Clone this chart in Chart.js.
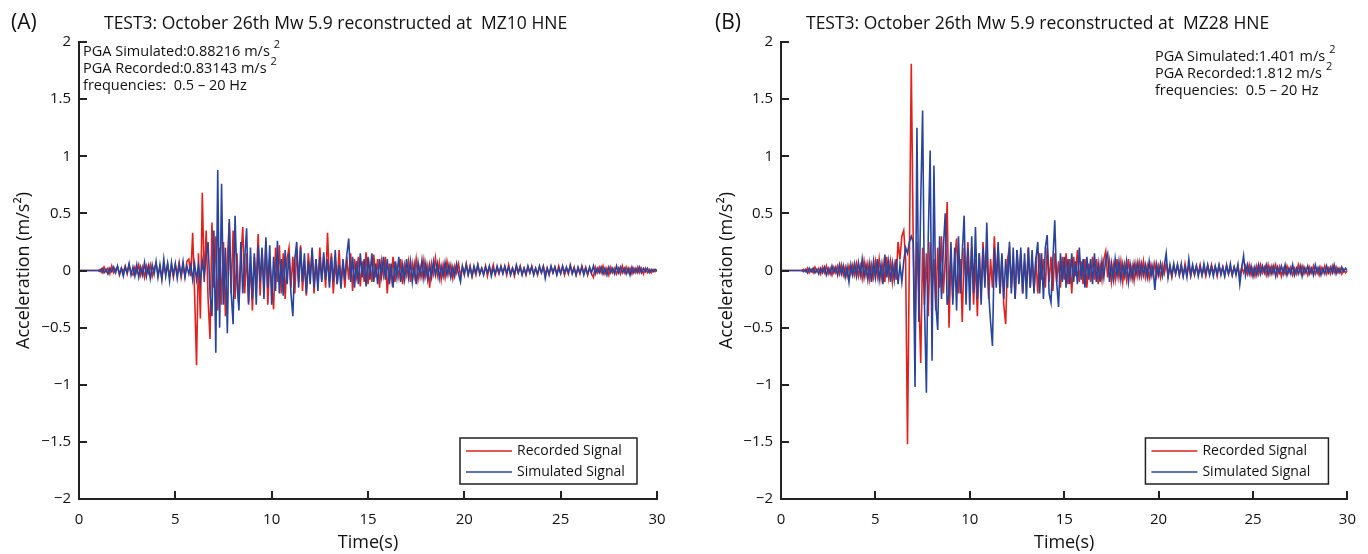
<!DOCTYPE html>
<html>
<head>
<meta charset="utf-8">
<script src="https://cdn.jsdelivr.net/npm/chart.js@4.4.1/dist/chart.umd.min.js"></script>
<style>
  body { margin: 0; background: #fff; }
  canvas { position: absolute; top: 0; }
</style>
</head>
<body>
<canvas id="panelA" width="684" height="554" style="left:0"></canvas>
<canvas id="panelB" width="684" height="554" style="left:684px"></canvas>
<script>
// sampling step of the traces (s)
const DT = 0.1;

const xTicks = [0, 5, 10, 15, 20, 25, 30];
const yTicks = [-2, -1.5, -1, -0.5, 0, 0.5, 1, 1.5, 2];
const TICK_LEN = 8;

// MZ10 HNE, one row per second
const recordedA = [
  0, 0, 0, 0, 0, 0, 0, 0, 0, 0,
  0.00, 0.01, -0.02, 0.03, -0.01, 0.02, -0.03, 0.04, -0.02, 0.01,
  0.03, -0.04, 0.02, -0.01, 0.04, -0.03, 0.05, -0.02, -0.04, 0.03,
  -0.02, 0.05, -0.04, 0.03, -0.06, 0.04, -0.02, 0.05, -0.05, 0.02,
  0.06, -0.04, 0.03, -0.07, 0.05, -0.03, 0.06, -0.05, 0.04, -0.06,
  0.05, -0.03, 0.07, -0.06, 0.04, -0.05, 0.08, 0.10, -0.05, 0.33,
  -0.20, -0.83, 0.15, -0.42, 0.68, -0.10, 0.35, -0.25, -0.60, 0.42,
  -0.15, 0.30, -0.35, 0.20, -0.30, 0.25, -0.40, 0.10, 0.42, -0.20,
  0.35, -0.25, 0.15, -0.30, 0.10, 0.38, -0.20, 0.15, -0.28, 0.05,
  -0.35, 0.12, -0.10, 0.32, -0.22, 0.18, -0.15, 0.25, -0.30, 0.10,
  -0.12, -0.34, 0.20, -0.10, 0.22, -0.20, 0.15, -0.25, 0.10, 0.20,
  -0.15, 0.12, -0.20, 0.18, -0.10, 0.22, -0.18, 0.08, -0.22, 0.15,
  -0.05, 0.18, -0.20, 0.10, -0.12, 0.20, -0.08, 0.12, -0.15, 0.33,
  -0.10, 0.15, -0.20, 0.08, -0.12, 0.18, -0.10, 0.05, -0.15, 0.12,
  -0.08, 0.15, -0.18, 0.10, -0.05, 0.12, -0.14, 0.08, -0.10, 0.16,
  -0.12, 0.05, -0.10, 0.14, -0.06, 0.10, -0.15, 0.08, -0.04, 0.12,
  -0.20, 0.06, -0.08, 0.12, -0.10, 0.04, -0.06, 0.10, -0.12, 0.05,
  -0.04, 0.08, -0.10, 0.06, -0.05, 0.10, -0.08, 0.03, -0.06, 0.09,
  -0.05, 0.04, -0.15, 0.06, -0.03, 0.11, -0.04, 0.07, -0.08, 0.05,
  -0.06, 0.08, -0.03, 0.05, -0.07, 0.04, -0.02, 0.06, -0.05, 0.03,
  -0.04, 0.06, -0.03, 0.04, -0.05, 0.02, -0.04, 0.05, -0.03, 0.02,
  -0.03, 0.04, -0.05, 0.03, -0.02, 0.05, -0.04, 0.02, -0.03, 0.04,
  -0.02, 0.03, -0.04, 0.05, -0.03, 0.02, -0.05, 0.03, -0.02, 0.04,
  -0.03, 0.02, -0.04, 0.03, -0.02, 0.04, -0.03, 0.02, -0.04, 0.03,
  -0.02, 0.04, -0.03, 0.02, -0.04, 0.03, -0.02, 0.03, -0.03, 0.04,
  -0.02, 0.03, -0.04, 0.02, -0.03, 0.05, -0.02, 0.03, -0.04, 0.02,
  -0.03, 0.04, -0.02, 0.03, -0.04, 0.02, -0.03, -0.06, 0.03, -0.02,
  0.03, -0.02, 0.04, -0.03, 0.02, -0.04, 0.03, -0.02, 0.02, -0.03,
  0.02, -0.03, 0.04, -0.02, 0.03, -0.02, 0.02, -0.03, 0.02, -0.02,
  0.03, -0.02, 0.02, -0.03, 0.02, -0.02, 0.01, -0.02, 0.01, -0.01,
  0
];

const simulatedA = [
  0, 0, 0, 0, 0, 0, 0, 0, 0, 0,
  0.00, -0.01, 0.02, -0.02, 0.01, -0.03, 0.02, -0.01, 0.03, -0.02,
  0.04, -0.03, 0.02, -0.05, 0.03, -0.02, 0.06, -0.04, 0.03, -0.05,
  0.05, -0.06, 0.03, -0.04, 0.07, -0.05, 0.04, -0.07, 0.05, -0.03,
  0.08, -0.06, 0.05, -0.08, 0.10, -0.05, 0.06, -0.09, 0.07, -0.04,
  0.06, -0.07, 0.05, -0.04, 0.08, -0.06, 0.04, -0.03, 0.05, -0.08,
  0.06, -0.08, 0.05, -0.10, 0.08, -0.05, 0.12, 0.25, -0.20, -0.40,
  0.35, -0.72, 0.88, -0.50, 0.76, -0.30, 0.20, -0.55, 0.45, -0.20,
  -0.47, 0.48, -0.10, -0.35, 0.25, -0.20, 0.10, 0.37, -0.30, 0.20,
  -0.25, 0.15, -0.30, 0.22, -0.10, 0.20, -0.25, 0.29, -0.15, 0.22,
  -0.30, 0.12, -0.18, 0.26, -0.20, 0.10, -0.22, 0.18, -0.12, 0.15,
  -0.20, -0.40, 0.10, 0.25, -0.15, 0.20, -0.10, 0.15, -0.20, 0.08,
  -0.12, 0.20, -0.15, 0.10, -0.18, 0.12, -0.10, 0.16, -0.08, 0.10,
  -0.15, 0.12, -0.10, 0.18, -0.12, 0.05, -0.16, 0.10, -0.08, 0.14,
  0.28, -0.10, 0.12, -0.15, 0.08, -0.12, 0.15, -0.06, 0.10, -0.14,
  0.12, -0.08, 0.15, -0.10, 0.06, -0.12, 0.10, -0.05, 0.12, -0.08,
  0.10, -0.12, 0.06, -0.15, 0.08, -0.06, 0.12, -0.10, 0.05, -0.08,
  0.10, -0.06, 0.08, -0.10, 0.05, -0.12, 0.07, -0.05, 0.09, -0.07,
  0.06, -0.08, 0.05, -0.06, 0.08, -0.04, 0.06, -0.07, 0.04, -0.05,
  0.07, -0.04, 0.05, -0.06, 0.03, -0.05, 0.06, -0.03, -0.10, 0.04,
  -0.03, 0.05, -0.04, 0.03, -0.05, 0.04, -0.02, 0.05, -0.03, 0.02,
  -0.04, 0.03, -0.02, 0.04, -0.05, 0.02, -0.03, 0.04, -0.02, 0.03,
  -0.03, 0.04, -0.02, 0.03, -0.04, 0.02, -0.03, 0.05, -0.02, 0.03,
  -0.04, 0.02, -0.03, 0.04, -0.02, 0.03, -0.04, 0.02, -0.03, 0.04,
  -0.02, 0.03, -0.07, 0.02, -0.03, 0.04, -0.02, 0.03, -0.04, 0.02,
  -0.03, 0.04, -0.02, 0.03, -0.02, 0.04, -0.03, 0.02, -0.04, 0.03,
  -0.02, 0.03, -0.04, 0.02, -0.03, 0.03, -0.02, 0.04, -0.03, 0.02,
  -0.02, 0.03, -0.03, 0.02, -0.04, 0.03, -0.02, 0.02, -0.03, 0.04,
  -0.02, 0.03, -0.02, 0.02, -0.03, 0.02, -0.04, 0.03, -0.02, 0.02,
  -0.02, 0.03, -0.02, 0.02, -0.01, 0.02, -0.02, 0.01, -0.01, 0.01,
  0
];

// MZ28 HNE
const recordedB = [
  0, 0, 0, 0, 0, 0, 0, 0, 0, 0,
  0.00, 0.00, 0.01, -0.01, 0.02, -0.02, 0.01, -0.02, 0.03, -0.01,
  0.02, -0.03, 0.03, -0.02, 0.04, -0.03, 0.02, -0.04, 0.03, -0.02,
  0.04, -0.03, 0.05, -0.04, 0.03, -0.05, 0.04, -0.03, 0.05, -0.04,
  0.06, -0.05, 0.04, -0.07, 0.08, -0.04, 0.06, -0.08, 0.05, -0.06,
  0.08, -0.05, 0.10, -0.07, 0.06, -0.10, 0.12, -0.06, 0.08, -0.10,
  0.05, -0.08, 0.25, 0.10, 0.30, 0.35, 0.10, -1.52, 0.15, 1.81,
  0.30, -0.55, 0.25, -0.20, -0.81, 0.20, -0.30, 0.15, -0.40, 0.25,
  -0.20, 0.10, -0.35, 0.20, -0.15, 0.30, -0.20, 0.10, 0.60, -0.50,
  0.15, -0.25, 0.10, 0.28, -0.20, 0.10, -0.45, 0.20, -0.10, 0.25,
  -0.15, 0.20, -0.30, 0.10, -0.40, 0.15, -0.20, 0.25, -0.10, 0.18,
  -0.25, 0.10, -0.15, 0.30, -0.10, 0.20, -0.20, 0.12, -0.30, -0.47,
  0.10, 0.20, -0.15, 0.10, -0.25, 0.18, -0.10, 0.15, -0.20, 0.08,
  -0.12, 0.20, -0.15, 0.10, -0.18, 0.12, -0.20, 0.15, -0.08, 0.10,
  -0.15, 0.20, -0.10, 0.12, -0.18, 0.15, -0.10, 0.08, -0.15, 0.12,
  -0.08, 0.15, -0.12, 0.10, -0.20, 0.12, -0.05, 0.18, -0.10, 0.08,
  -0.12, 0.10, -0.15, 0.06, -0.10, 0.12, -0.08, 0.10, -0.12, 0.05,
  -0.08, 0.10, 0.17, -0.06, 0.08, -0.10, 0.05, -0.08, 0.10, -0.06,
  0.08, -0.10, 0.05, -0.08, 0.10, -0.06, 0.04, -0.09, 0.06, -0.05,
  0.07, -0.05, 0.08, -0.06, 0.04, -0.07, 0.05, -0.04, 0.06, -0.05,
  0.04, -0.06, 0.05, -0.03, 0.06, -0.05, 0.03, -0.06, 0.04, -0.03,
  0.05, -0.04, 0.03, -0.05, 0.06, -0.03, 0.04, -0.05, 0.03, -0.04,
  0.04, -0.03, 0.05, -0.04, 0.02, -0.05, 0.04, -0.03, 0.05, -0.02,
  0.03, -0.05, 0.04, -0.02, 0.03, -0.04, 0.05, -0.03, 0.02, -0.04,
  0.03, -0.02, 0.04, -0.05, 0.03, -0.02, 0.04, -0.03, 0.05, -0.04,
  0.02, -0.05, 0.04, -0.03, 0.05, -0.02, 0.03, -0.04, 0.05, -0.03,
  0.04, -0.02, 0.05, -0.04, 0.03, -0.05, 0.02, -0.03, 0.04, -0.02,
  0.03, -0.04, 0.02, -0.03, 0.05, -0.02, 0.04, -0.03, 0.02, -0.04,
  0.03, -0.02, 0.04, -0.03, 0.02, -0.04, 0.03, -0.02, 0.04, -0.03,
  0.02, -0.03, 0.04, -0.02, 0.03, -0.02, 0.02, -0.03, 0.01, -0.02,
  0
];

const simulatedB = [
  0, 0, 0, 0, 0, 0, 0, 0, 0, 0,
  0.00, 0.00, -0.01, 0.01, -0.02, 0.02, -0.01, 0.02, -0.02, 0.01,
  -0.03, 0.02, -0.02, 0.03, -0.04, 0.02, -0.03, 0.04, -0.02, 0.03,
  -0.04, 0.05, -0.03, 0.04, -0.06, 0.03, -0.10, 0.05, -0.04, 0.06,
  -0.05, 0.07, -0.04, 0.10, -0.06, 0.05, -0.08, 0.06, -0.10, 0.08,
  -0.06, 0.10, -0.08, 0.05, -0.12, 0.14, -0.06, 0.08, -0.10, 0.06,
  -0.08, 0.10, -0.12, 0.05, -0.10, 0.08, 0.20, 0.15, 0.25, 0.30,
  0.25, -1.02, 1.25, -0.45, 0.60, 1.40, -0.30, -1.07, 0.30, 1.05,
  -0.79, 0.92, -0.30, -0.52, 0.30, -0.25, 0.20, 0.50, -0.30, -0.20,
  0.25, -0.30, 0.20, -0.35, 0.30, -0.20, 0.15, 0.48, -0.30, 0.20,
  -0.35, 0.30, -0.20, 0.38, -0.25, 0.15, -0.30, 0.20, -0.15, 0.42,
  -0.20, -0.45, -0.66, 0.20, -0.15, 0.25, -0.20, 0.15, -0.25, 0.10,
  -0.15, 0.25, -0.20, 0.20, -0.25, 0.18, -0.12, 0.20, -0.20, 0.15,
  -0.25, 0.20, -0.15, 0.18, -0.20, 0.10, 0.25, -0.20, 0.15, -0.25,
  0.20, 0.31, -0.20, -0.28, 0.10, 0.44, -0.10, -0.32, 0.15, -0.10,
  0.12, -0.15, 0.10, -0.12, 0.15, -0.10, 0.08, -0.12, 0.20, -0.08,
  0.10, -0.15, 0.12, -0.08, 0.10, -0.12, 0.15, -0.10, 0.06, -0.10,
  0.08, -0.06, 0.10, 0.15, -0.10, 0.06, -0.08, 0.10, -0.05, 0.08,
  -0.08, 0.06, -0.05, 0.08, -0.10, 0.05, -0.07, 0.06, -0.04, 0.07,
  -0.05, 0.06, -0.04, 0.05, -0.06, 0.08, -0.05, 0.04, -0.17, 0.05,
  -0.04, 0.06, -0.05, 0.04, 0.15, -0.06, 0.05, -0.04, 0.06, -0.03,
  0.05, -0.04, 0.06, -0.05, 0.03, -0.06, 0.10, -0.04, 0.05, -0.03,
  0.04, -0.05, 0.03, -0.04, 0.06, -0.03, 0.05, -0.04, 0.03, -0.05,
  0.04, -0.03, 0.05, -0.04, 0.03, -0.05, 0.04, -0.03, 0.06, -0.04,
  0.03, -0.04, 0.05, -0.12, 0.02, 0.13, -0.04, 0.05, -0.03, 0.04,
  -0.05, 0.03, -0.04, 0.05, -0.03, 0.04, -0.02, 0.05, -0.04, 0.03,
  -0.03, 0.04, -0.05, 0.03, -0.02, 0.04, -0.03, 0.05, -0.04, 0.02,
  -0.03, 0.05, -0.04, 0.02, -0.03, 0.04, -0.05, 0.03, -0.02, 0.04,
  -0.03, 0.02, -0.04, 0.05, -0.02, 0.03, -0.04, 0.02, -0.03, 0.04,
  -0.02, 0.03, -0.02, 0.05, -0.03, 0.02, -0.02, 0.03, -0.01, 0.02,
  0
];

const RED = '#e3211c';
const BLUE = '#28449c';
const AXIS = '#222';
const TEXT = '#111';
const FONT = '"Open Sans", "DejaVu Sans", sans-serif';

function toPoints(values) {
    return values.map((v, i) => ({ x: i * DT, y: v }));
}

function fmtTick(v) {
    if (v === 0) return '0';
    return v < 0 ? '\u2212' + Math.abs(v) : String(v);
}

// note line with a raised "2" after the unit
function drawSup(ctx, text, x, y) {
    ctx.font = '14.5px ' + FONT;
    const w = ctx.measureText(text).width;
    ctx.fillText(text, x, y);
    ctx.font = '11px ' + FONT;
    ctx.fillText('2', x + w + 4, y - 7);
}

// MATLAB style tick marks pointing into the axes
const innerTicks = {
    id: 'innerTicks',
    afterDraw(chart) {
        const ctx = chart.ctx;
        const area = chart.chartArea;
        const sx = chart.scales.x;
        const sy = chart.scales.y;
        ctx.save();
        ctx.fillStyle = AXIS;
        xTicks.forEach(v => {
            const px = Math.round(sx.getPixelForValue(v));
            ctx.fillRect(px - 1, area.bottom - TICK_LEN, 2, TICK_LEN);
        });
        yTicks.forEach(v => {
            const py = Math.round(sy.getPixelForValue(v));
            ctx.fillRect(area.left, py - 1, TICK_LEN, 2);
        });
        ctx.restore();
    }
};

// panel letter, title, PGA notes and boxed legend
const decorPlugin = {
    id: 'decor',
    afterDraw(chart, args, opts) {
        const {ctx, chartArea: {left, right}} = chart;
        ctx.save();
        ctx.fillStyle = TEXT;
        ctx.textBaseline = 'middle';
        ctx.textAlign = 'left';
        ctx.font = '21px ' + FONT;
        ctx.fillText(opts.letter, opts.letterX, 23);

        ctx.font = '17.5px ' + FONT;
        ctx.fillText(opts.title, left + 25, 24);

        // PGA notes, the three lines share one left edge
        ctx.font = '14.5px ' + FONT;
        let nx = left + 4;
        if (opts.noteAlign === 'right') {
            const w0 = ctx.measureText(opts.notes[0]).width;
            ctx.font = '11px ' + FONT;
            nx = right - 12 - w0 - 4 - ctx.measureText('2').width;
        }
        drawSup(ctx, opts.notes[0], nx, opts.noteY);
        drawSup(ctx, opts.notes[1], nx, opts.noteY + 17);
        ctx.font = '14.5px ' + FONT;
        ctx.fillText(opts.notes[2], nx, opts.noteY + 34);

        // legend
        const lx = right - opts.legendRight - opts.legendW;
        const ly = 438, lh = 46;
        ctx.fillStyle = '#fff';
        ctx.fillRect(lx, ly, opts.legendW, lh);
        ctx.strokeStyle = AXIS;
        ctx.lineWidth = 1.5;
        ctx.strokeRect(lx, ly, opts.legendW, lh);
        ctx.font = '14px ' + FONT;
        chart.data.datasets.forEach((ds, i) => {
            const ry = ly + 13 + i * 21;
            ctx.strokeStyle = ds.borderColor;
            ctx.lineWidth = 1.6;
            ctx.beginPath();
            ctx.moveTo(lx + 6, ry);
            ctx.lineTo(lx + 52, ry);
            ctx.stroke();
            ctx.fillStyle = TEXT;
            ctx.fillText(ds.label, lx + 57, ry);
        });
        ctx.restore();
    }
};

function createPanel(id, recorded, simulated, yWidth, rightPad, decor) {
    const ctx = document.getElementById(id).getContext('2d');
    return new Chart(ctx, {
        type: 'line',
        data: {
            datasets: [{
                label: 'Recorded Signal',
                data: toPoints(recorded),
                borderColor: RED,
                borderWidth: 1.6,
                pointRadius: 0,
                tension: 0,
                order: 1
            }, {
                label: 'Simulated Signal',
                data: toPoints(simulated),
                borderColor: BLUE,
                borderWidth: 1.6,
                pointRadius: 0,
                tension: 0,
                order: 0
            }]
        },
        options: {
            responsive: false,
            animation: false,
            layout: { padding: { top: 42, right: rightPad, left: 0, bottom: 0 } },
            scales: {
                x: {
                    type: 'linear',
                    min: 0,
                    max: 30,
                    grid: { display: false, drawTicks: false },
                    border: { color: AXIS, width: 2 },
                    ticks: {
                        stepSize: 5,
                        padding: 12,
                        maxRotation: 0,
                        color: TEXT,
                        font: { family: FONT, size: 15 }
                    },
                    title: {
                        display: true,
                        text: 'Time(s)',
                        color: TEXT,
                        font: { family: FONT, size: 18 },
                        padding: { top: 0, bottom: 0 }
                    },
                    afterFit(scale) { scale.height = 55; }
                },
                y: {
                    min: -2,
                    max: 2,
                    grid: { display: false, drawTicks: false },
                    border: { color: AXIS, width: 2 },
                    ticks: {
                        stepSize: 0.5,
                        padding: 8,
                        color: TEXT,
                        font: { family: FONT, size: 15 },
                        callback: fmtTick
                    },
                    title: {
                        display: true,
                        text: 'Acceleration (m/s²)',
                        color: TEXT,
                        font: { family: FONT, size: 18 },
                        padding: { top: decor.yTitlePad, bottom: 0 }
                    },
                    afterFit(scale) { scale.width = yWidth; }
                }
            },
            plugins: {
                legend: { display: false },
                tooltip: { enabled: false },
                decor: decor
            }
        },
        plugins: [innerTicks, decorPlugin]
    });
}

createPanel('panelA', recordedA, simulatedA, 79, 27, {
    letter: '(A)', letterX: 11,
    title: 'TEST3: October 26th Mw 5.9 reconstructed at  MZ10 HNE',
    notes: ['PGA Simulated:0.88216 m/s', 'PGA Recorded:0.83143 m/s', 'frequencies:  0.5 \u2013 20 Hz'],
    noteAlign: 'left', noteY: 52,
    legendW: 177, legendRight: 20,
    yTitlePad: 13
});

createPanel('panelB', recordedB, simulatedB, 97, 10, {
    letter: '(B)', letterX: 31,
    title: 'TEST3: October 26th Mw 5.9 reconstructed at  MZ28 HNE',
    notes: ['PGA Simulated:1.401 m/s', 'PGA Recorded:1.812 m/s', 'frequencies:  0.5 \u2013 20 Hz'],
    noteAlign: 'right', noteY: 57,
    legendW: 183, legendRight: 19,
    yTitlePad: 32
});
</script>
</body>
</html>
